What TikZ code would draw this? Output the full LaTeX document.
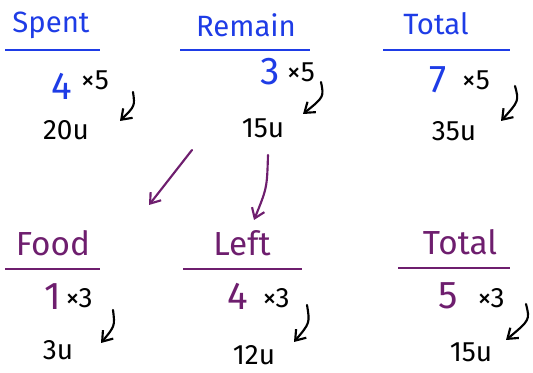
\documentclass[tikz,border=0pt]{standalone}
\usepackage{fontspec}
\setmainfont{Fira Sans}
\usepackage{xcolor}
\usepackage{tikz}
\usetikzlibrary{arrows.meta}
\definecolor{penblue}{HTML}{1E3CE6}
\definecolor{penpurple}{HTML}{6E1E6E}

\tikzset{
  head/.style={inner sep=0pt, font=\fontsize{22}{24}\selectfont},
  num/.style={inner sep=0pt, font=\fontsize{29}{31}\selectfont},
  times/.style={inner sep=0pt, font=\fontsize{21}{23}\selectfont},
  res/.style={inner sep=0pt, font=\fontsize{21}{23}\selectfont},
  rule/.style={line width=1.8pt},
  pen/.style={line width=1.6pt, line cap=round, line join=round,
    -{Straight Barb[length=7pt,width=10pt,line width=1.6pt]}},
}

\begin{document}
\begin{tikzpicture}[x=0.75pt,y=-0.75pt]

\useasboundingbox (0,0) rectangle (533,373);

% Riga in alto (blu)
\node[head,penblue] (spent) at (51,25) {Spent};
\node[head,penblue] (remain) at (246,25) {Remain};
\node[head,penblue] (totala) at (436,24) {Total};

\draw[rule,penblue] (5,50) -- (100,50);
\draw[rule,penblue] (180,50) -- (310,50);
\draw[rule,penblue] (383,50) -- (510,50);

\node[num,penblue] (spentn) at (62,86) {4};
\node[times] (spentx) at (95,80) {×5};
\node[num,penblue] (remainn) at (270,72) {3};
\node[times] (remainx) at (301,72) {×5};
\node[num,penblue] (totalan) at (438,80) {7};
\node[times] (totalax) at (476,80) {×5};

\node[res] (spentr) at (66,130) {20u};
\node[res] (remainr) at (263,128) {15u};
\node[res] (totalar) at (454,131) {35u};

% Frecce nere
\coordinate (s1) at (133,92);  \coordinate (s2) at (120,121);
\coordinate (r1) at (321,82);  \coordinate (r2) at (303,114);
\coordinate (t1) at (515,86);  \coordinate (t2) at (501,121);
\draw[pen] (s1) .. controls (135,106) .. (s2);
\draw[pen] (r1) .. controls (324,97) .. (r2);
\draw[pen] (t1) .. controls (519,101) .. (t2);

% Frecce viola
\coordinate (p1) at (192,150);  \coordinate (p2) at (149,205);
\coordinate (q1) at (268,155);  \coordinate (q2) at (254,220);
\draw[pen,penpurple] (p1) -- (p2);
\draw[pen,penpurple] (q1) .. controls (267,188) .. (q2);

% Riga in basso (viola)
\node[head,penpurple,font=\fontsize{25}{27}\selectfont] (food) at (53,243) {Food};
\node[head,penpurple,font=\fontsize{25}{27}\selectfont] (left) at (242,243) {Left};
\node[head,penpurple,font=\fontsize{25}{27}\selectfont] (totalb) at (460,242) {Total};

\draw[rule,penpurple] (5,269) -- (100,269);
\draw[rule,penpurple] (183,269) -- (302,269);
\draw[rule,penpurple] (398,268) -- (510,268);

\node[num,penpurple] (foodn) at (53,297) {1};
\node[times] (foodx) at (79,298) {×3};
\node[num,penpurple] (leftn) at (238,296) {4};
\node[times] (leftx) at (276,298) {×3};
\node[num,penpurple] (totalbn) at (448,296) {5};
\node[times] (totalbx) at (491,298) {×3};

\node[res] (foodr) at (58,350) {3u};
\node[res] (leftr) at (254,355) {12u};
\node[res] (totalbr) at (471,352) {15u};

% Frecce nere in basso
\coordinate (f1) at (113,310);  \coordinate (f2) at (101,343);
\coordinate (l1) at (307,305);  \coordinate (l2) at (294,342);
\coordinate (b1) at (526,304);  \coordinate (b2) at (506,340);
\draw[pen] (f1) .. controls (115,326) .. (f2);
\draw[pen] (l1) .. controls (310,323) .. (l2);
\draw[pen] (b1) .. controls (530,320) .. (b2);

\end{tikzpicture}
\end{document}
